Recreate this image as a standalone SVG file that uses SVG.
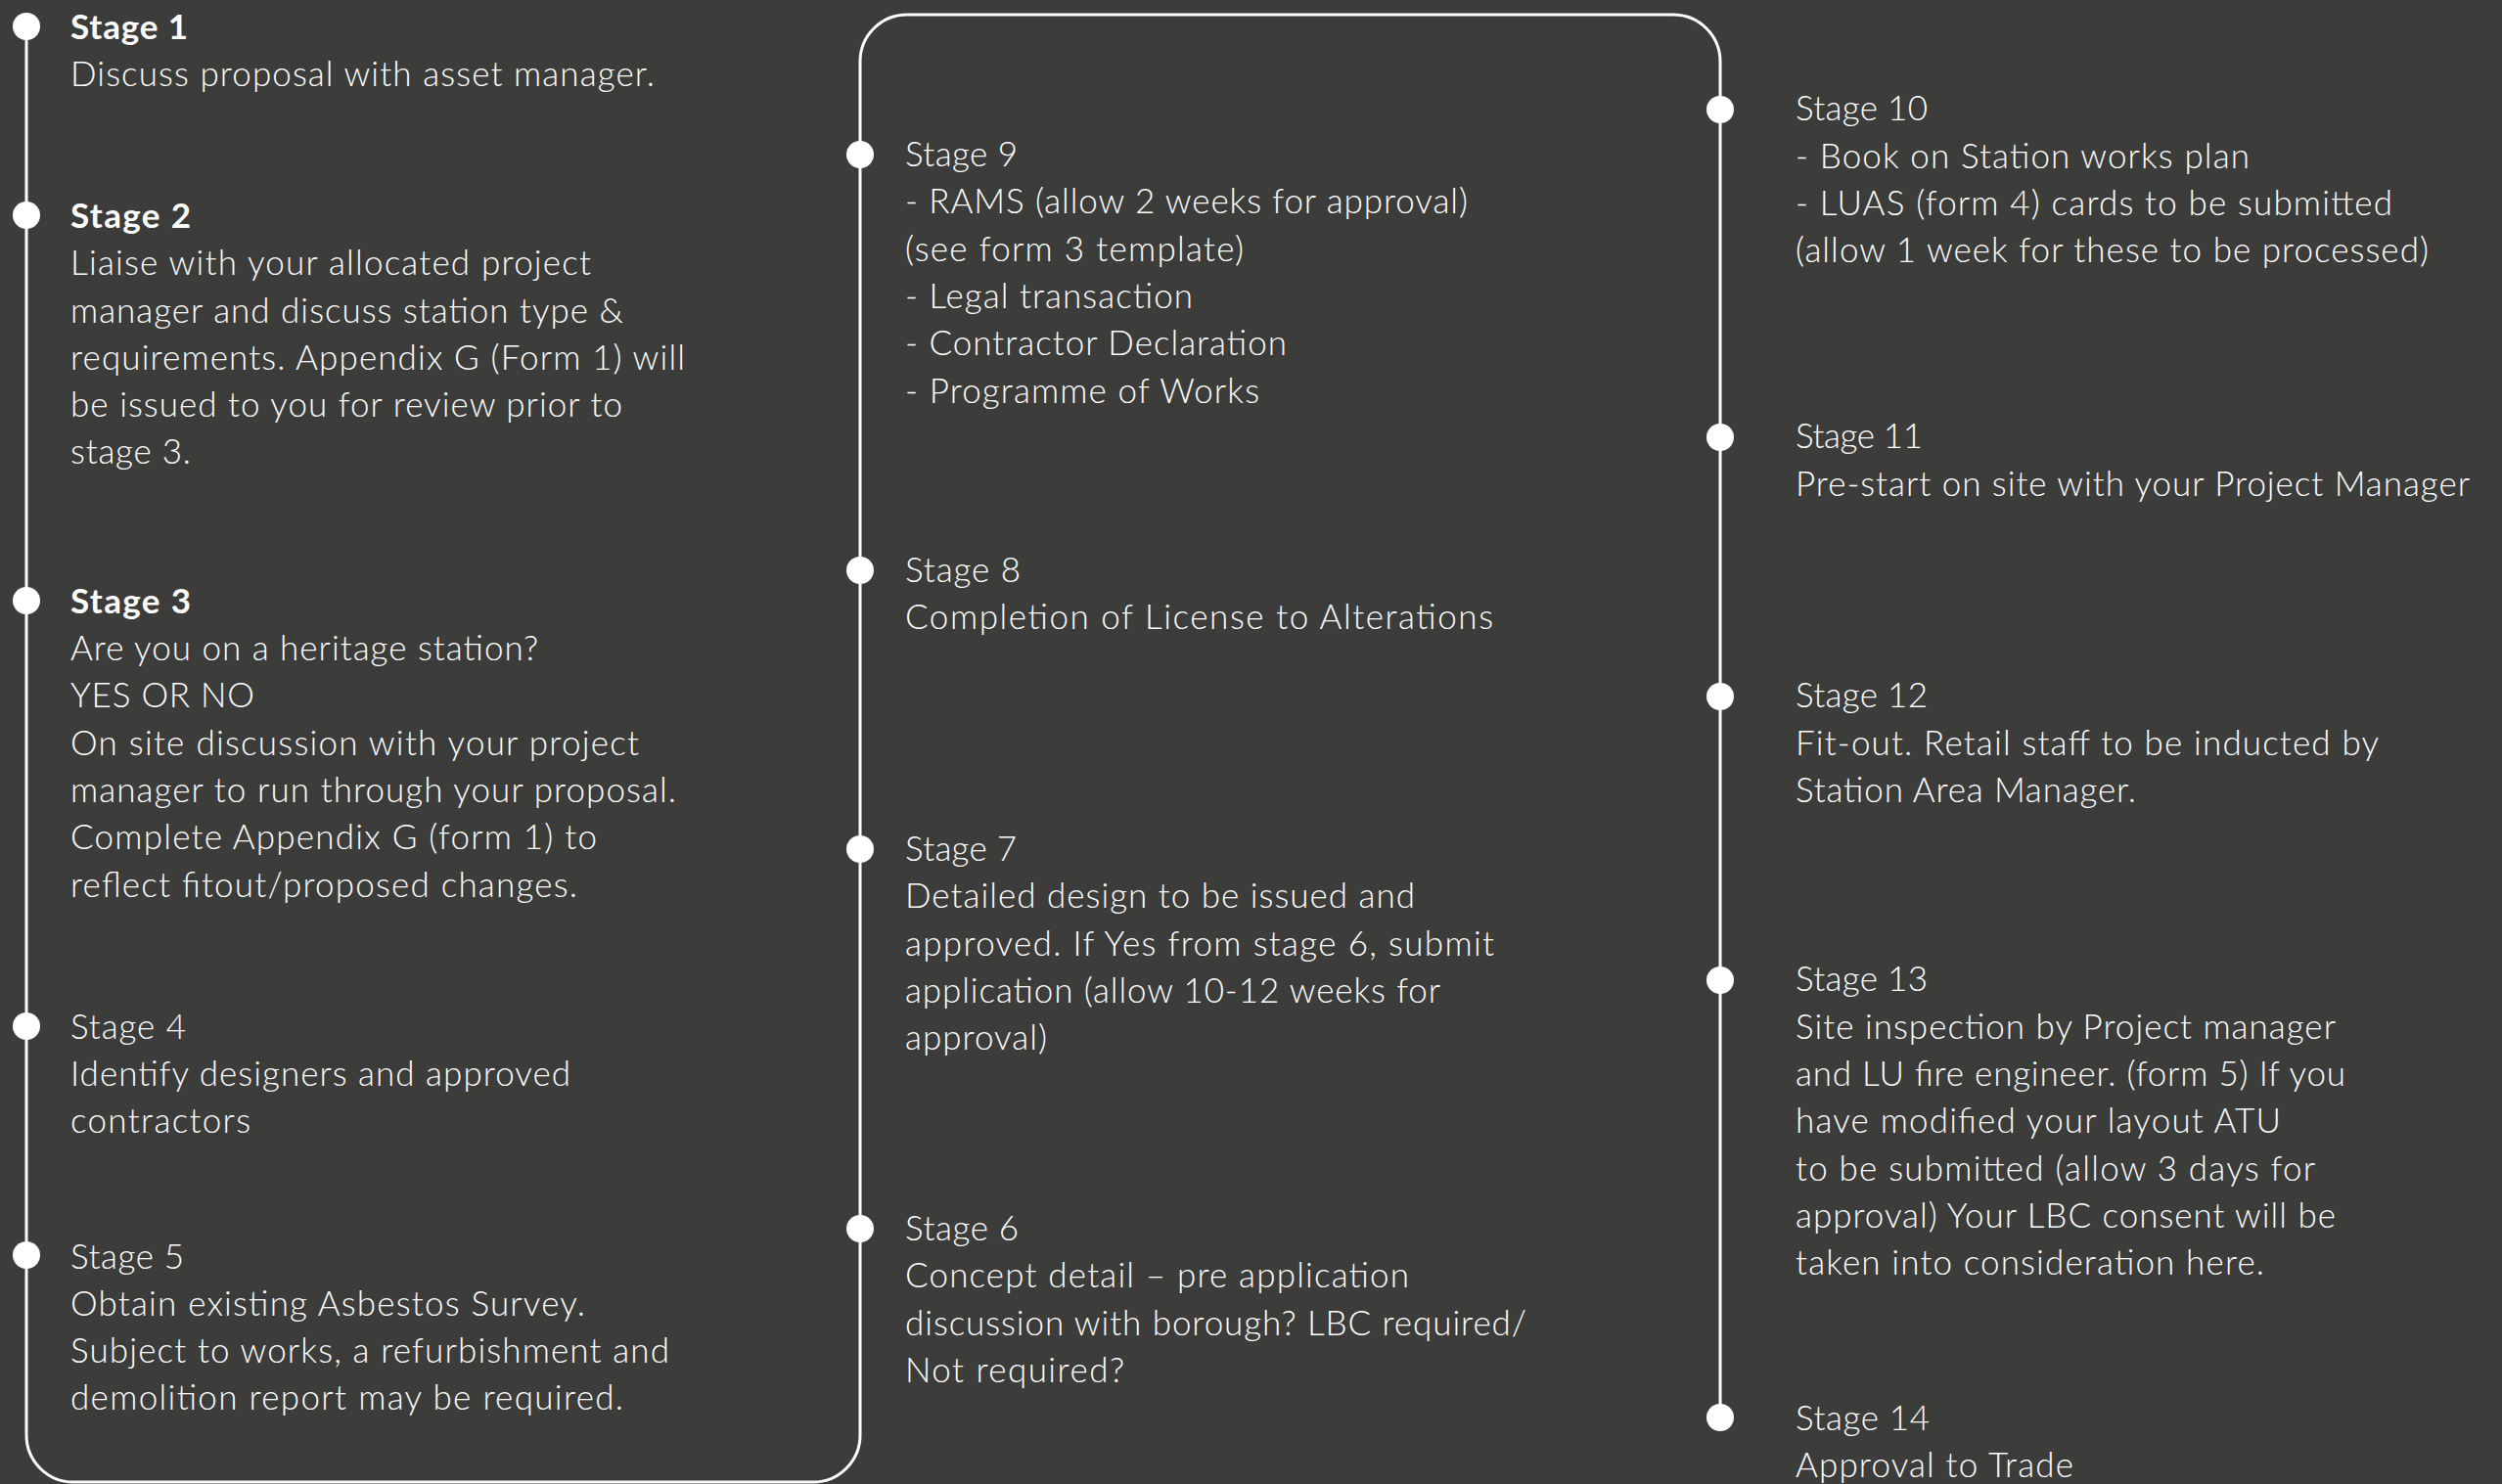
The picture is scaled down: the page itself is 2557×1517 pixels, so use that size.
<svg xmlns="http://www.w3.org/2000/svg" width="2557" height="1517" viewBox="0 0 2557 1517">
<style>
.bg{fill:#3c3c3b}
.t{font-family:Lato,"Liberation Sans",sans-serif;font-size:35px;font-weight:300;fill:#ffffff}
.b{font-weight:bold}
.dot{fill:#ffffff}
.conn{fill:none;stroke:#ffffff;stroke-width:3}
</style>
<rect class="bg" x="0" y="0" width="2557" height="1517"/>
<g id="connectors">
<path class="conn" d="M27,27 V1467 A48,48 0 0 0 75,1515 H831 A48,48 0 0 0 879,1467 V63 A48,48 0 0 1 927,15 H1710 A48,48 0 0 1 1758,63 V1449"/>
</g>
<g id="stage1">
<circle class="dot" cx="27" cy="27" r="14"/>
<text class="t b" x="72" y="40" textLength="120">Stage 1</text>
<text class="t" x="72" y="88" textLength="597">Discuss proposal with asset manager.</text>
</g>
<g id="stage2">
<circle class="dot" cx="27" cy="220" r="14"/>
<text class="t b" x="72" y="233" textLength="123">Stage 2</text>
<text class="t" x="72" y="281" textLength="532">Liaise with your allocated project</text>
<text class="t" x="72" y="330" textLength="565">manager and discuss station type &amp;</text>
<text class="t" x="72" y="378" textLength="628">requirements. Appendix G (Form 1) will</text>
<text class="t" x="72" y="426" textLength="564">be issued to you for review prior to</text>
<text class="t" x="72" y="474" textLength="123">stage 3.</text>
</g>
<g id="stage3">
<circle class="dot" cx="27" cy="614" r="14"/>
<text class="t b" x="72" y="627" textLength="123">Stage 3</text>
<text class="t" x="72" y="675" textLength="478">Are you on a heritage station?</text>
<text class="t" x="72" y="723" textLength="188">YES OR NO</text>
<text class="t" x="72" y="772" textLength="581">On site discussion with your project</text>
<text class="t" x="72" y="820" textLength="619">manager to run through your proposal.</text>
<text class="t" x="72" y="868" textLength="538">Complete Appendix G (form 1) to</text>
<text class="t" x="72" y="917" textLength="518">reflect fitout/proposed changes.</text>
</g>
<g id="stage4">
<circle class="dot" cx="27" cy="1049" r="14"/>
<text class="t" x="72" y="1062" textLength="118">Stage 4</text>
<text class="t" x="72" y="1110" textLength="511">Identify designers and approved</text>
<text class="t" x="72" y="1158" textLength="184">contractors</text>
</g>
<g id="stage5">
<circle class="dot" cx="27" cy="1283" r="14"/>
<text class="t" x="72" y="1297" textLength="116">Stage 5</text>
<text class="t" x="72" y="1345" textLength="526">Obtain existing Asbestos Survey.</text>
<text class="t" x="72" y="1393" textLength="612">Subject to works, a refurbishment and</text>
<text class="t" x="72" y="1441" textLength="565">demolition report may be required.</text>
</g>
<g id="stage6">
<circle class="dot" cx="879" cy="1256" r="14"/>
<text class="t" x="925" y="1268" textLength="116">Stage 6</text>
<text class="t" x="925" y="1316" textLength="515">Concept detail – pre application</text>
<text class="t" x="925" y="1365" textLength="635">discussion with borough? LBC required/</text>
<text class="t" x="925" y="1413" textLength="224">Not required?</text>
</g>
<g id="stage7">
<circle class="dot" cx="879" cy="868" r="14"/>
<text class="t" x="925" y="880" textLength="114">Stage 7</text>
<text class="t" x="925" y="928" textLength="521">Detailed design to be issued and</text>
<text class="t" x="925" y="977" textLength="602">approved. If Yes from stage 6, submit</text>
<text class="t" x="925" y="1025" textLength="547">application (allow 10-12 weeks for</text>
<text class="t" x="925" y="1073" textLength="145">approval)</text>
</g>
<g id="stage8">
<circle class="dot" cx="879" cy="583" r="14"/>
<text class="t" x="925" y="595" textLength="118">Stage 8</text>
<text class="t" x="925" y="643" textLength="601">Completion of License to Alterations</text>
</g>
<g id="stage9">
<circle class="dot" cx="879" cy="158" r="14"/>
<text class="t" x="925" y="170" textLength="115">Stage 9</text>
<text class="t" x="925" y="218" textLength="575">- RAMS (allow 2 weeks for approval)</text>
<text class="t" x="925" y="267" textLength="346">(see form 3 template)</text>
<text class="t" x="925" y="315" textLength="294">- Legal transaction</text>
<text class="t" x="925" y="363" textLength="390">- Contractor Declaration</text>
<text class="t" x="925" y="412" textLength="362">- Programme of Works</text>
</g>
<g id="stage10">
<circle class="dot" cx="1758" cy="112" r="14"/>
<text class="t" x="1835" y="123" textLength="135">Stage 10</text>
<text class="t" x="1835" y="172" textLength="464">- Book on Station works plan</text>
<text class="t" x="1835" y="220" textLength="610">- LUAS (form 4) cards to be submitted</text>
<text class="t" x="1835" y="268" textLength="647">(allow 1 week for these to be processed)</text>
</g>
<g id="stage11">
<circle class="dot" cx="1758" cy="447" r="14"/>
<text class="t" x="1835" y="458" textLength="130">Stage 11</text>
<text class="t" x="1835" y="507" textLength="689">Pre-start on site with your Project Manager</text>
</g>
<g id="stage12">
<circle class="dot" cx="1758" cy="712" r="14"/>
<text class="t" x="1835" y="723" textLength="135">Stage 12</text>
<text class="t" x="1835" y="772" textLength="596">Fit-out. Retail staff to be inducted by</text>
<text class="t" x="1835" y="820" textLength="348">Station Area Manager.</text>
</g>
<g id="stage13">
<circle class="dot" cx="1758" cy="1002" r="14"/>
<text class="t" x="1835" y="1013" textLength="135">Stage 13</text>
<text class="t" x="1835" y="1062" textLength="552">Site inspection by Project manager</text>
<text class="t" x="1835" y="1110" textLength="562">and LU fire engineer. (form 5) If you</text>
<text class="t" x="1835" y="1158" textLength="496">have modified your layout ATU</text>
<text class="t" x="1835" y="1207" textLength="531">to be submitted (allow 3 days for</text>
<text class="t" x="1835" y="1255" textLength="552">approval) Your LBC consent will be</text>
<text class="t" x="1835" y="1303" textLength="479">taken into consideration here.</text>
</g>
<g id="stage14">
<circle class="dot" cx="1758" cy="1449" r="14"/>
<text class="t" x="1835" y="1462" textLength="137">Stage 14</text>
<text class="t" x="1835" y="1510" textLength="284">Approval to Trade</text>
</g>
</svg>
